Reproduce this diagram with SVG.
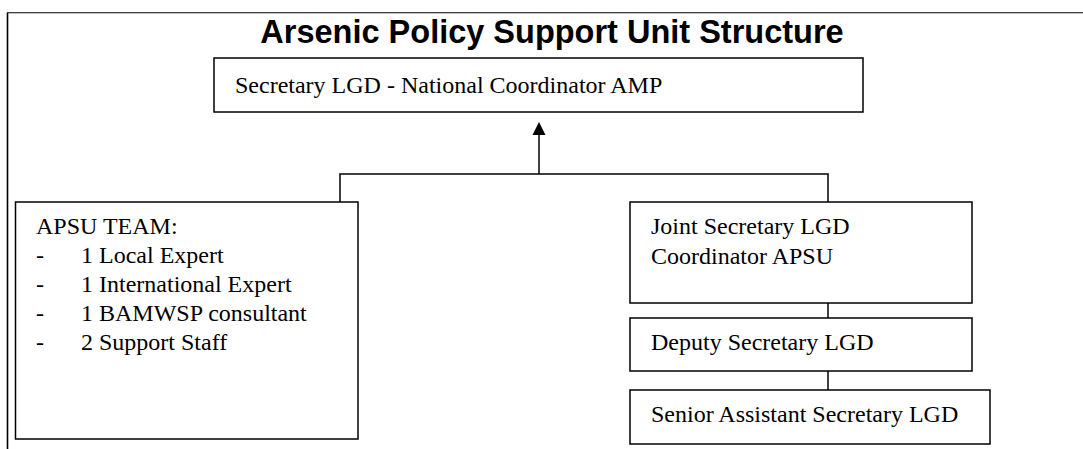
<svg xmlns="http://www.w3.org/2000/svg" width="1083" height="449" viewBox="0 0 1083 449">
<style>
.box{fill:#fff;stroke:#000;stroke-width:1.5}
.t{font-family:"Liberation Serif","Times New Roman",serif;font-size:24px;fill:#000}
.title{font-family:"Liberation Sans",Arial,sans-serif;font-size:32.5px;font-weight:bold;fill:#000}
.c{fill:none;stroke:#000;stroke-width:1.5}
</style>
<g id="frame">
<line x1="7.5" y1="12.7" x2="7.5" y2="449" stroke="#000" stroke-width="1.6"/>
<line x1="7" y1="12.7" x2="1083" y2="12.7" stroke="#000" stroke-width="1.1"/>
</g>
<text id="title" class="title" x="552" y="43" text-anchor="middle">Arsenic Policy Support Unit Structure</text>
<g id="connectors">
<polyline class="c" points="340,202 340,174 828,174 828,202"/>
<line class="c" x1="539" y1="174" x2="539" y2="134"/>
<polygon points="539,122 532.5,135 545.5,135" fill="#000"/>
<line class="c" x1="828" y1="281" x2="828" y2="318"/>
<line class="c" x1="828" y1="371" x2="828" y2="390"/>
</g>
<g id="node-secretary">
<rect class="box" x="214" y="58" width="649" height="54"/>
<text class="t" x="235" y="93">Secretary LGD - National Coordinator AMP</text>
</g>
<g id="node-apsu">
<rect class="box" x="15.5" y="202" width="342.5" height="237"/>
<text class="t" x="36" y="234">APSU TEAM:</text>
<text class="t" x="36" y="263">-</text><text class="t" x="81" y="263">1 Local Expert</text>
<text class="t" x="36" y="292">-</text><text class="t" x="81" y="292">1 International Expert</text>
<text class="t" x="36" y="321">-</text><text class="t" x="81" y="321">1 BAMWSP consultant</text>
<text class="t" x="36" y="350">-</text><text class="t" x="81" y="350">2 Support Staff</text>
</g>
<g id="node-joint">
<rect class="box" x="630" y="202" width="342" height="101"/>
<text class="t" x="651" y="234">Joint Secretary LGD</text>
<text class="t" x="651" y="264">Coordinator APSU</text>
</g>
<g id="node-deputy">
<rect class="box" x="630" y="318" width="342" height="53"/>
<text class="t" x="651" y="350">Deputy Secretary LGD</text>
</g>
<g id="node-senior">
<rect class="box" x="630" y="390" width="360" height="54"/>
<text class="t" x="651" y="422">Senior Assistant Secretary LGD</text>
</g>
</svg>
